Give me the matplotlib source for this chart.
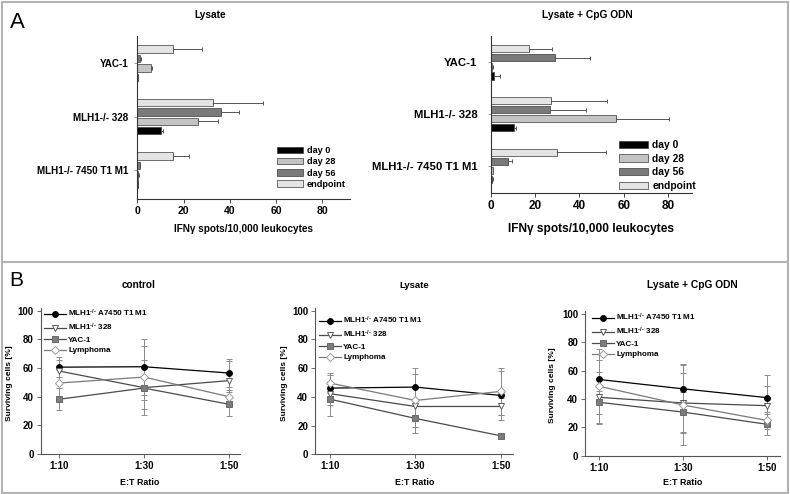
import matplotlib
matplotlib.use('Agg')
import matplotlib.pyplot as plt
import numpy as np
from matplotlib.patches import Patch, Rectangle
from matplotlib.lines import Line2D

W, H = 790, 494
plt.rcParams.update({
    'font.family': ['Liberation Sans', 'DejaVu Sans'],
    'font.weight': 'bold',
    'mathtext.fontset': 'custom',
    'mathtext.rm': 'Liberation Sans:bold',
    'mathtext.it': 'Liberation Sans:bold',
    'mathtext.bf': 'Liberation Sans:bold',
    'mathtext.default': 'rm',
    'axes.linewidth': 0.8,
})

# ---------------- Panel A data ----------------
categories = ['YAC-1', 'MLH1-/- 328', 'MLH1-/- 7450 T1 M1']
series_names = ['day 0', 'day 28', 'day 56', 'endpoint']

lys_day0 = [0.5, 10.1, 0.5]
lys_day0_err = [0.0, 0.9, 0.0]
lys_day28 = [5.8, 26.4, 0.5]
lys_day28_err = [0.4, 8.6, 0.2]
lys_day56 = [1.1, 36.0, 1.1]
lys_day56_err = [0.3, 8.0, 0.2]
lys_endpoint = [15.6, 32.6, 15.6]
lys_endpoint_err = [12.6, 21.6, 6.9]

cpg_day0 = [1.5, 10.3, 0.7]
cpg_day0_err = [2.7, 1.2, 0.5]
cpg_day28 = [0.8, 56.5, 0.9]
cpg_day28_err = [0.2, 24.0, 0.2]
cpg_day56 = [28.8, 26.7, 8.0]
cpg_day56_err = [16.0, 16.3, 1.8]
cpg_endpoint = [17.1, 27.0, 30.0]
cpg_endpoint_err = [10.6, 25.3, 22.0]

bar_colors = {'day 0': '#000000', 'day 28': '#c4c4c4', 'day 56': '#7a7a7a', 'endpoint': '#e4e4e4'}

# ---------------- Panel B data ----------------
ratios = ['1:10', '1:30', '1:50']
line_labels = [r'MLH1$^{\text{-/-}}$ A7450 T1 M1', r'MLH1$^{\text{-/-}}$ 328', 'YAC-1', 'Lymphoma']

ctrl_a7450 = [60.6, 60.9, 56.5]
ctrl_a7450_err = [7.0, 19.4, 10.0]
ctrl_328 = [57.9, 46.3, 51.2]
ctrl_328_err = [8.0, 19.0, 14.0]
ctrl_yac = [38.2, 46.0, 34.7]
ctrl_yac_err = [7.6, 8.0, 8.3]
ctrl_lym = [49.5, 53.7, 40.0]
ctrl_lym_err = [9.0, 22.0, 5.0]

lys_a7450 = [46.1, 46.8, 41.0]
lys_a7450_err = [9.0, 13.4, 17.0]
lys_328 = [42.2, 33.3, 33.3]
lys_328_err = [8.0, 14.6, 6.0]
lys_yac = [38.4, 25.0, 12.9]
lys_yac_err = [12.0, 10.5, 1.5]
lys_lym = [49.6, 37.5, 43.8]
lys_lym_err = [7.0, 18.7, 16.4]

cpg_a7450 = [53.8, 47.2, 41.0]
cpg_a7450_err = [13.7, 17.3, 15.9]
cpg_328 = [41.2, 37.2, 35.3]
cpg_328_err = [18.0, 21.0, 14.0]
cpg_yac = [37.7, 30.8, 22.2]
cpg_yac_err = [8.1, 14.2, 7.5]
cpg_lym = [49.0, 35.8, 24.9]
cpg_lym_err = [26.5, 28.0, 6.0]

fig = plt.figure(figsize=(W / 100, H / 100), dpi=100)


def px_axes(left, top, right, bottom):
    return fig.add_axes([left / W, 1 - bottom / H, (right - left) / W, (bottom - top) / H])


def ftext(x, y, s, **kw):
    fig.text(x / W, 1 - y / H, s, **kw)


# ---------------- Panel A ----------------
def bar_panel(box, data, ylim, xmax, fs_tick, fs_cat, cat_pad, fs_leg, leg_xy, leg_spacing):
    ax = px_axes(*box)
    off = 0.175
    order = [('endpoint', -1.5), ('day 56', -0.5), ('day 28', 0.5), ('day 0', 1.5)]
    groups = np.arange(len(categories))
    for name, k in order:
        vals, errs = data[name]
        ax.barh(groups + k * off, vals, height=0.14, color=bar_colors[name],
                edgecolor='#3a3a3a', linewidth=0.5,
                xerr=[np.zeros(len(errs)), errs],
                error_kw=dict(ecolor='#555555', elinewidth=0.7, capsize=1.6, capthick=0.7))
    ax.set_ylim(*ylim)
    ax.set_xlim(0, xmax)
    ax.set_xticks([0, 20, 40, 60, 80])
    ax.set_yticks(groups)
    ax.set_yticklabels(categories, fontsize=fs_cat, fontweight='bold')
    ax.tick_params(axis='x', labelsize=fs_tick, length=3, width=0.7, pad=2, color='#444444')
    ax.tick_params(axis='y', length=2, width=0.6, pad=cat_pad, color='#888888')
    for s in ['top', 'right']:
        ax.spines[s].set_visible(False)
    ax.spines['left'].set_color('#333333')
    ax.spines['bottom'].set_color('#333333')
    handles = [Patch(facecolor=bar_colors[n], edgecolor='#3a3a3a', linewidth=0.5) for n in series_names]
    ax.legend(handles, series_names, loc='upper left', bbox_to_anchor=(leg_xy[0] / W, 1 - leg_xy[1] / H),
              bbox_transform=fig.transFigure, frameon=False, borderpad=0,
              borderaxespad=0, handlelength=2.8, handleheight=0.7, handletextpad=0.45,
              labelspacing=leg_spacing, prop={'weight': 'bold', 'size': fs_leg})
    return ax


lys_data = {'day 0': (lys_day0, lys_day0_err), 'day 28': (lys_day28, lys_day28_err),
            'day 56': (lys_day56, lys_day56_err), 'endpoint': (lys_endpoint, lys_endpoint_err)}
cpg_data = {'day 0': (cpg_day0, cpg_day0_err), 'day 28': (cpg_day28, cpg_day28_err),
            'day 56': (cpg_day56, cpg_day56_err), 'endpoint': (cpg_endpoint, cpg_endpoint_err)}

bar_panel((137.3, 36, 350, 199), lys_data, (2.54, -0.51), 92, 7.5, 7.1, 4.5, 6.6, (277, 146), 0.25)
bar_panel((490.7, 36, 692, 192.7), cpg_data, (2.52, -0.51), 90.7, 8.5, 8.2, 7.5, 7.4, (619, 140), 0.35)

ftext(210, 15, 'Lysate', fontsize=7.3, ha='center', va='center')
ftext(587, 15, 'Lysate + CpG ODN', fontsize=7.4, ha='center', va='center')
ftext(244, 229, 'IFN\u03b3 spots/10,000 leukocytes', fontsize=7.2, ha='center', va='center')
ftext(591, 229, 'IFN\u03b3 spots/10,000 leukocytes', fontsize=8.6, ha='center', va='center')
ftext(10, 22, 'A', fontsize=16, fontweight='normal', ha='left', va='center')
ftext(9, 280, 'B', fontsize=15, fontweight='normal', ha='left', va='center')

# ---------------- Panel B ----------------
styles = [
    dict(color='black', marker='o', mfc='black', mec='black', ms=4.2),
    dict(color='#4a4a4a', marker='v', mfc='white', mec='#5a5a5a', ms=4.2),
    dict(color='#4a4a4a', marker='s', mfc='#7c7c7c', mec='#6a6a6a', ms=3.8),
    dict(color='#7a7a7a', marker='D', mfc='white', mec='#9a9a9a', ms=3.6),
]


def line_panel(box_x, y0, ppu, xpos, series, title, title_xy, fs_title, ylab_x, xlab_xy, leg_xy):
    left, right = box_x
    ymax = 102
    top = y0 - ymax * ppu
    ax = px_axes(left, top, right, y0)
    step = (xpos[2] - xpos[0]) / 2
    ax.set_xlim((left - xpos[0]) / step, 2 + (right - xpos[2]) / step)
    ax.set_ylim(0, ymax)
    x = np.arange(len(ratios))
    for (vals, errs), st, lab in zip(series, styles, line_labels):
        ax.errorbar(x, vals, yerr=errs, fmt='none', ecolor='#8c8c8c', elinewidth=0.7,
                    capsize=2.0, capthick=0.7, zorder=1)
        ax.plot(x, vals, lw=0.9, label=lab, zorder=3, mew=0.7, **st)
    ax.set_xticks(x)
    ax.set_xticklabels(ratios)
    ax.set_yticks([0, 20, 40, 60, 80, 100])
    ax.tick_params(labelsize=7, length=3, width=0.6, pad=2, color='#555555')
    for s in ['top', 'right']:
        ax.spines[s].set_visible(False)
    ax.spines['left'].set_color('#555555')
    ax.spines['bottom'].set_color('#555555')
    ax.legend(loc='upper left', bbox_to_anchor=(leg_xy[0] / W, 1 - leg_xy[1] / H),
              bbox_transform=fig.transFigure, frameon=False, borderpad=0, borderaxespad=0,
              handlelength=2.7, handletextpad=0.3, labelspacing=0.35,
              prop={'weight': 'bold', 'size': 5.8})
    ftext(title_xy[0], title_xy[1], title, fontsize=fs_title, ha='center', va='center')
    ftext(ylab_x, (top + y0) / 2 + 2, 'Surviving cells [%]', fontsize=6, rotation=90,
          ha='center', va='center')
    ftext(xlab_xy[0], xlab_xy[1], 'E:T Ratio', fontsize=6.4, ha='center', va='center')
    return ax


line_panel((40.7, 240), 454.0, 1.433, (59, 144, 229),
           [(ctrl_a7450, ctrl_a7450_err), (ctrl_328, ctrl_328_err), (ctrl_yac, ctrl_yac_err), (ctrl_lym, ctrl_lym_err)],
           'control', (139, 285), 7.2, 10, (140, 482), (44, 308))
line_panel((315, 513), 454.3, 1.436, (330, 415, 500.7),
           [(lys_a7450, lys_a7450_err), (lys_328, lys_328_err), (lys_yac, lys_yac_err), (lys_lym, lys_lym_err)],
           'Lysate', (414, 285), 6.8, 285, (415, 482), (319, 315))
line_panel((585, 780), 455.7, 1.417, (599, 682.3, 766.7),
           [(cpg_a7450, cpg_a7450_err), (cpg_328, cpg_328_err), (cpg_yac, cpg_yac_err), (cpg_lym, cpg_lym_err)],
           'Lysate + CpG ODN', (692, 285), 7.4, 553, (683, 482), (592, 312))

# ---------------- frame ----------------
bc = '#b4b4b4'
fig.add_artist(Rectangle((1.5 / W, 1.5 / H), (W - 3.5) / W, (H - 3.5) / H, transform=fig.transFigure,
                         fill=False, edgecolor=bc, linewidth=1.5))
fig.add_artist(Line2D([1.5 / W, (W - 2) / W], [1 - 261.5 / H, 1 - 261.5 / H], transform=fig.transFigure,
                      color=bc, linewidth=1.5))

fig.savefig('out.png', dpi=100)
